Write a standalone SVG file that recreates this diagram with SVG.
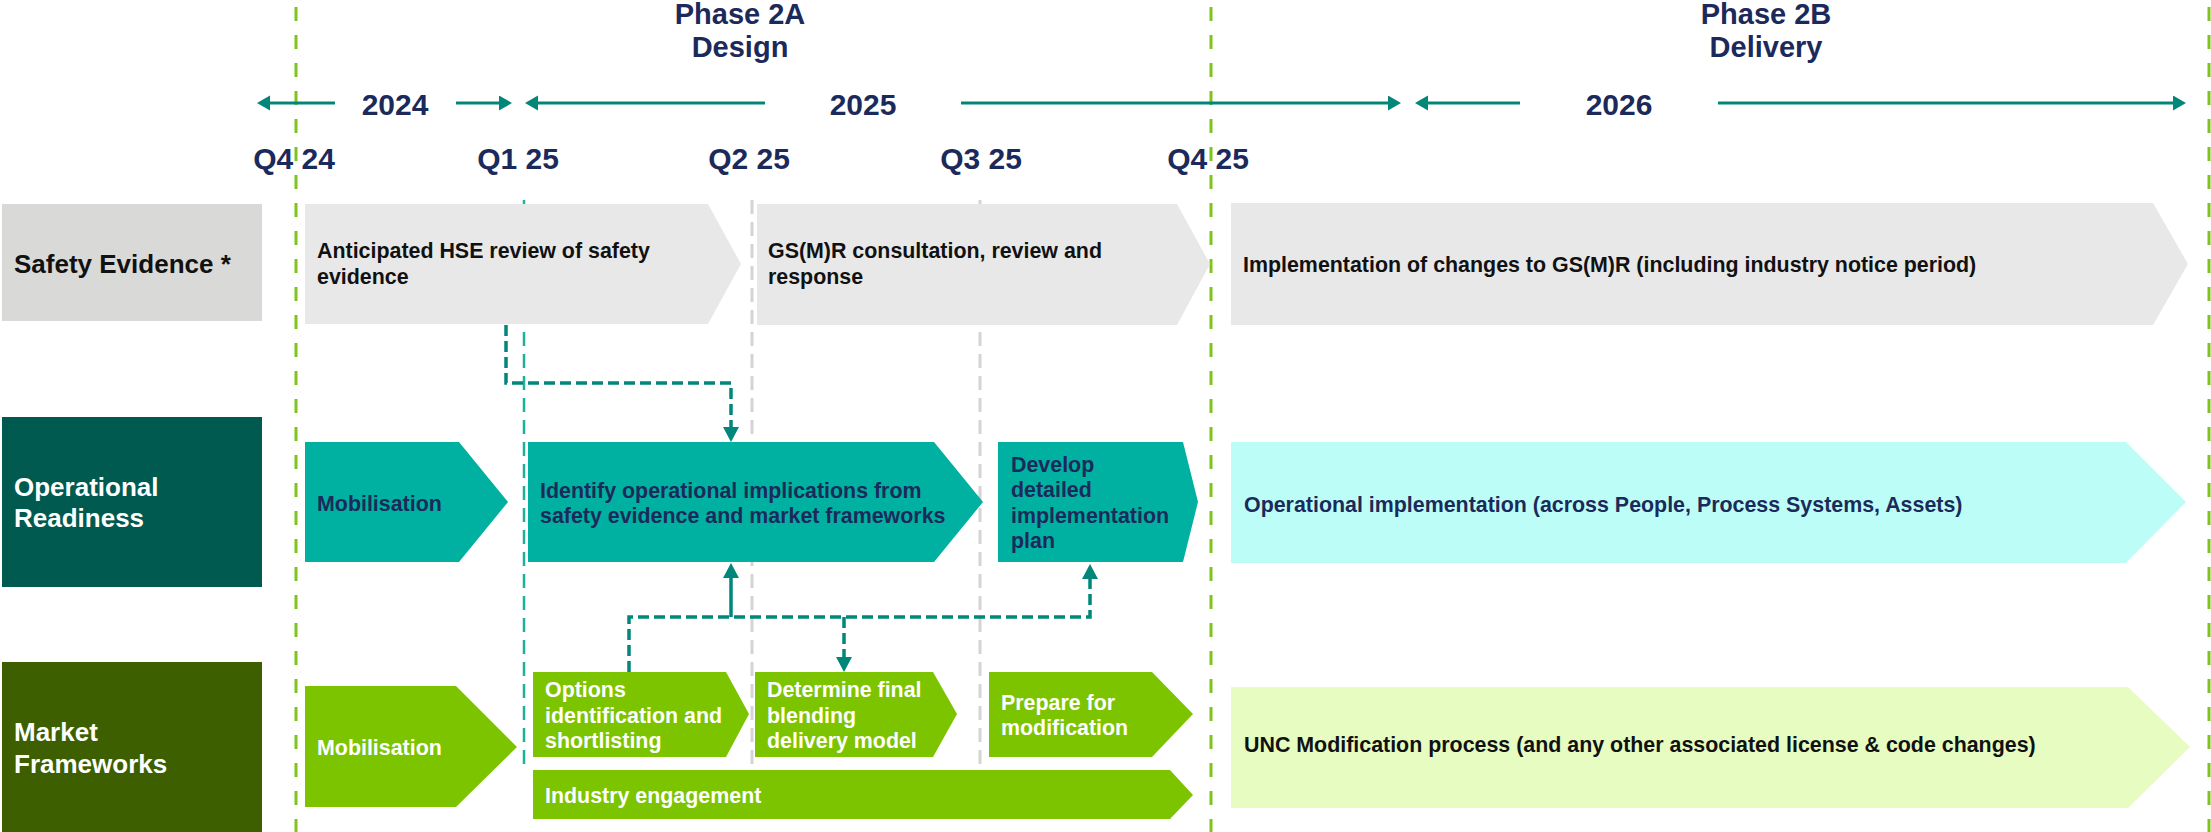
<svg xmlns="http://www.w3.org/2000/svg" width="2211" height="832" viewBox="0 0 2211 832">
<style>
text{font-family:"Liberation Sans",Arial,sans-serif;font-weight:bold}
.hdr{font-size:29px;fill:#1B2A5A;text-anchor:middle}
.yr{font-size:30px;fill:#1B2A5A;text-anchor:middle}
.lbl{font-size:26px}
.ct{font-size:21.4px}
.dk{fill:#111}
.nv{fill:#1B2A5A}
.wh{fill:#fff}
.se{fill:#E8E8E8}
.or{fill:#00B1A1}
.orl{fill:#BCFEF7}
.mf{fill:#7DC400}
.mfl{fill:#E6FCC0}
.gl{stroke:#7FC31C;stroke-width:3;stroke-dasharray:14 14;fill:none}
.tq{stroke:#1DB0A1;stroke-width:2.5;stroke-dasharray:14 8;fill:none}
.gr{stroke:#D4D4D4;stroke-width:3;stroke-dasharray:14 8;fill:none}
.tl{stroke:#00877A;stroke-width:3;fill:none}
.cn{stroke:#00877A;stroke-width:3.5;fill:none}
.dsh{stroke-dasharray:11 5}
</style>
<defs>
<marker id="ah" markerUnits="userSpaceOnUse" markerWidth="16" markerHeight="16" refX="0" refY="8" orient="auto"><path d="M0,0 L15,8 L0,16 z" fill="#00877A"/></marker>
<marker id="th" markerUnits="userSpaceOnUse" markerWidth="14" markerHeight="16" refX="0" refY="7.5" orient="auto"><path d="M0,0 L13,7.5 L0,15 z" fill="#00877A"/></marker>
</defs>
<rect width="2211" height="832" fill="#fff"/>

<g id="gridlines">
<line class="tq" x1="524" y1="200" x2="524" y2="768"/>
<line class="gr" x1="752" y1="200" x2="752" y2="768"/>
<line class="gr" x1="980" y1="200" x2="980" y2="768"/>
<line class="gl" x1="296" y1="7" x2="296" y2="832"/>
<line class="gl" x1="1211" y1="7" x2="1211" y2="832"/>
<line class="gl" x1="2209" y1="7" x2="2209" y2="832"/>
</g>

<g id="header">
<text class="hdr" x="740" y="24">Phase 2A</text>
<text class="hdr" x="740" y="57">Design</text>
<text class="hdr" x="1766" y="24">Phase 2B</text>
<text class="hdr" x="1766" y="57">Delivery</text>
<text class="yr" x="395" y="115">2024</text>
<text class="yr" x="863" y="115">2025</text>
<text class="yr" x="1619" y="115">2026</text>
<text class="yr" x="294" y="169">Q4 24</text>
<text class="yr" x="518" y="169">Q1 25</text>
<text class="yr" x="749" y="169">Q2 25</text>
<text class="yr" x="981" y="169">Q3 25</text>
<text class="yr" x="1208" y="169">Q4 25</text>
</g>

<g id="timeline">
<path class="tl" d="M335,103 H270" marker-end="url(#th)"/>
<path class="tl" d="M456,103 H499" marker-end="url(#th)"/>
<path class="tl" d="M765,103 H538" marker-end="url(#th)"/>
<path class="tl" d="M961,103 H1388" marker-end="url(#th)"/>
<path class="tl" d="M1520,103 H1428" marker-end="url(#th)"/>
<path class="tl" d="M1718,103 H2173" marker-end="url(#th)"/>
</g>

<g id="lane-safety">
<rect x="2" y="204" width="260" height="117" fill="#D9DAD7"/>
<text class="lbl dk" x="14" y="273">Safety Evidence *</text>
</g>
<g id="lane-operational">
<rect x="2" y="417" width="260" height="170" fill="#005A4F"/>
<text class="lbl wh" x="14" y="496">Operational</text>
<text class="lbl wh" x="14" y="527">Readiness</text>
</g>
<g id="lane-market">
<rect x="2" y="662" width="260" height="170" fill="#3D5F00"/>
<text class="lbl wh" x="14" y="741">Market</text>
<text class="lbl wh" x="14" y="773">Frameworks</text>
</g>

<g id="se-hse">
<polygon class="se" points="305,204 708,204 741,264 708,324 305,324"/>
<text class="ct dk" x="317" y="258">Anticipated HSE review of safety</text>
<text class="ct dk" x="317" y="284">evidence</text>
</g>
<g id="se-gsmr">
<polygon class="se" points="757,204 1177,204 1210,264 1177,325 757,325"/>
<text class="ct dk" x="768" y="258">GS(M)R consultation, review and</text>
<text class="ct dk" x="768" y="284">response</text>
</g>
<g id="se-impl">
<polygon class="se" points="1231,203 2153,203 2188,264 2153,325 1231,325"/>
<text class="ct dk" x="1243" y="272">Implementation of changes to GS(M)R (including industry notice period)</text>
</g>

<g id="or-mob">
<polygon class="or" points="305,442 459,442 508,502 459,562 305,562"/>
<text class="ct nv" x="317" y="511">Mobilisation</text>
</g>
<g id="or-identify">
<polygon class="or" points="528,442 934,442 983,502 934,562 528,562"/>
<text class="ct nv" x="540" y="498">Identify operational implications from</text>
<text class="ct nv" x="540" y="523">safety evidence and market frameworks</text>
</g>
<g id="or-develop">
<polygon class="or" points="998,442 1183,442 1198,502 1183,562 998,562"/>
<text class="ct nv" x="1011" y="472">Develop</text>
<text class="ct nv" x="1011" y="497">detailed</text>
<text class="ct nv" x="1011" y="523">implementation</text>
<text class="ct nv" x="1011" y="548">plan</text>
</g>
<g id="or-impl">
<polygon class="orl" points="1231,442 2126,442 2186,502 2126,563 1231,563"/>
<text class="ct nv" x="1244" y="512">Operational implementation (across People, Process Systems, Assets)</text>
</g>

<g id="mf-mob">
<polygon class="mf" points="305,686 456,686 517,747 456,807 305,807"/>
<text class="ct wh" x="317" y="755">Mobilisation</text>
</g>
<g id="mf-options">
<polygon class="mf" points="533,672 726,672 749,714 726,757 533,757"/>
<text class="ct wh" x="545" y="697">Options</text>
<text class="ct wh" x="545" y="723">identification and</text>
<text class="ct wh" x="545" y="748">shortlisting</text>
</g>
<g id="mf-determine">
<polygon class="mf" points="755,672 933,672 957,714 933,757 755,757"/>
<text class="ct wh" x="767" y="697">Determine final</text>
<text class="ct wh" x="767" y="723">blending</text>
<text class="ct wh" x="767" y="748">delivery model</text>
</g>
<g id="mf-prepare">
<polygon class="mf" points="989,672 1152,672 1193,714 1152,757 989,757"/>
<text class="ct wh" x="1001" y="710">Prepare for</text>
<text class="ct wh" x="1001" y="735">modification</text>
</g>
<g id="mf-industry">
<polygon class="mf" points="533,770 1170,770 1193,795 1170,819 533,819"/>
<text class="ct wh" x="545" y="803">Industry engagement</text>
</g>
<g id="mf-unc">
<polygon class="mfl" points="1231,687 2128,687 2190,747 2128,808 1231,808"/>
<text class="ct dk" x="1244" y="752">UNC Modification process (and any other associated license &amp; code changes)</text>
</g>

<g id="connectors">
<path class="cn dsh" d="M506,325 V383 H731 V427" marker-end="url(#ah)"/>
<path class="cn dsh" d="M629,672 V617 H1090 V579" marker-end="url(#ah)"/>
<path class="cn" d="M731,617 V578" marker-end="url(#ah)"/>
<path class="cn dsh" d="M844,617 V657" marker-end="url(#ah)"/>
</g>
</svg>
